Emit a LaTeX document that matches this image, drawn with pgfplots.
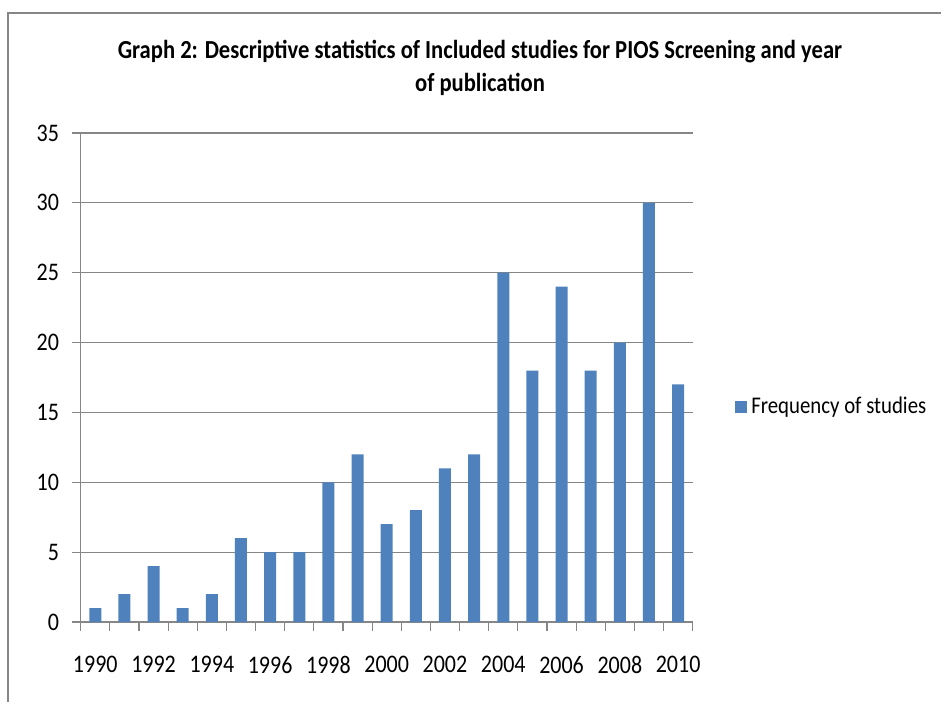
\documentclass[border=0pt]{standalone}
\usepackage{pgfplots}
\pgfplotsset{compat=1.18}
\usepackage{pgfplotstable}
\usepackage{fontspec}
\setmainfont{Carlito}
\definecolor{barblue}{HTML}{4F81BD}
\definecolor{gridgray}{HTML}{868686}
\newcommand{\vs}[1]{\scalebox{1}[1.15]{#1}}

\pgfplotstableread{
x year freq
0 1990 1
1 1991 2
2 1992 4
3 1993 1
4 1994 2
5 1995 6
6 1996 5
7 1997 5
8 1998 10
9 1999 12
10 2000 7
11 2001 8
12 2002 11
13 2003 12
14 2004 25
15 2005 18
16 2006 24
17 2007 18
18 2008 20
19 2009 30
20 2010 17
}\datatable

\begin{document}
\begin{tikzpicture}
\useasboundingbox (0pt,0pt) rectangle (470.5pt,351pt);
\draw[gridgray, line width=1pt] (4pt,0pt) -- (4pt,344.5pt) -- (470.5pt,344.5pt);
\node[font=\bfseries\fontsize{11.3}{13}\selectfont] at (240pt,325pt) {\vs{Graph 2: Descriptive statistics of Included studies for PIOS Screening and year}};
\node[font=\bfseries\fontsize{11.3}{13}\selectfont] at (240pt,309pt) {\vs{of publication}};
\begin{axis}[
  at={(40.35pt,40pt)}, anchor=south west,
  width=306pt, height=244.5pt, scale only axis,
  ybar, bar width=6pt,
  xmin=-0.5, xmax=20.5, ymin=0, ymax=35,
  enlargelimits=false,
  axis x line*=bottom, axis y line*=left,
  axis line style={gridgray, line width=0.6pt, -},
  font=\fontsize{11}{13}\selectfont,
  xtick={-0.5,0.5,...,20.5},
  xticklabels={},
  x tick style={draw=gridgray, line width=0.6pt},
  extra x ticks={0,2,...,20},
  extra x tick labels={\vs{1990},\vs{1992},\vs{1994},\vs{1996},\vs{1998},\vs{2000},\vs{2002},\vs{2004},\vs{2006},\vs{2008},\vs{2010}},
  extra x tick style={major tick length=0pt, grid=none, tick style={draw=none},
    tick label style={yshift=-13.5pt}},
  ytick={0,5,...,35},
  yticklabels={\vs{0},\vs{5},\vs{10},\vs{15},\vs{20},\vs{25},\vs{30},\vs{35}},
  y tick style={draw=gridgray, line width=0.6pt},
  major tick length=4.3pt,
  tick align=outside,
  ymajorgrids,
  grid style={gridgray, line width=0.6pt},
  y tick label style={xshift=-3pt},
  legend style={at={(1.069,0.44)}, anchor=west, draw=none, fill=none, inner sep=0pt,
    font=\fontsize{10.4}{12}\selectfont},
  legend cell align=left,
  legend image code/.code={\fill[barblue] (0pt,-3pt) rectangle (6pt,3pt);},
]
\addplot[fill=barblue, draw=none] table[x=x, y=freq] {\datatable};
\addlegendentry{\vs{Frequency of studies}}
\end{axis}
\end{tikzpicture}
\end{document}
